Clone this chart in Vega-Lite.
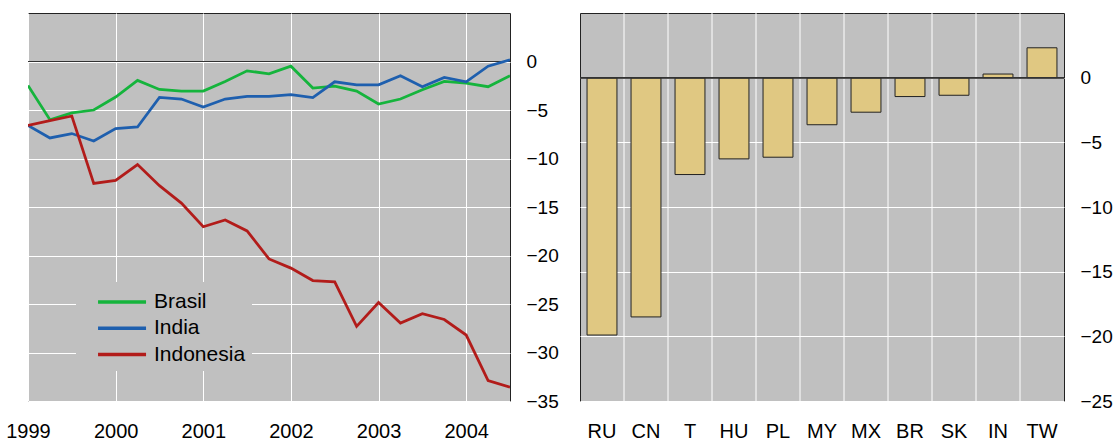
{
  "$schema": "https://vega.github.io/schema/vega-lite/v6.json",
  "background": "white",
  "padding": {"left": 5, "top": 12, "right": 50, "bottom": 5},
  "bounds": "flush",
  "spacing": 70,
  "config": {
    "view": {"fill": "#c0c0c0", "stroke": "#222222", "strokeWidth": 1},
    "font": "Liberation Sans",
    "axis": {
      "labelFont": "Liberation Sans", "labelFontSize": 20, "labelColor": "#000000",
      "gridColor": "#ffffff", "gridOpacity": 1, "gridWidth": 1,
      "ticks": false, "tickSize": 0, "domain": false, "title": null
    },
    "axisY": {"labelFontSize": 19},
    "legend": {
      "labelFont": "Liberation Sans", "labelFontSize": 21, "labelColor": "#000000"
    }
  },
  "datasets": {
    "lines": [
      {"t": 1999.0, "s": "Brasil", "v": -2.47}, {"t": 1999.25, "s": "Brasil", "v": -6.0}, {"t": 1999.5, "s": "Brasil", "v": -5.3}, {"t": 1999.75, "s": "Brasil", "v": -5.0},
      {"t": 2000.0, "s": "Brasil", "v": -3.66}, {"t": 2000.25, "s": "Brasil", "v": -1.95}, {"t": 2000.5, "s": "Brasil", "v": -2.88}, {"t": 2000.75, "s": "Brasil", "v": -3.05},
      {"t": 2001.0, "s": "Brasil", "v": -3.05}, {"t": 2001.25, "s": "Brasil", "v": -2.05}, {"t": 2001.5, "s": "Brasil", "v": -0.96}, {"t": 2001.75, "s": "Brasil", "v": -1.27},
      {"t": 2002.0, "s": "Brasil", "v": -0.48}, {"t": 2002.25, "s": "Brasil", "v": -2.74}, {"t": 2002.5, "s": "Brasil", "v": -2.53}, {"t": 2002.75, "s": "Brasil", "v": -3.05},
      {"t": 2003.0, "s": "Brasil", "v": -4.38}, {"t": 2003.25, "s": "Brasil", "v": -3.87}, {"t": 2003.5, "s": "Brasil", "v": -2.91}, {"t": 2003.75, "s": "Brasil", "v": -2.05},
      {"t": 2004.0, "s": "Brasil", "v": -2.23}, {"t": 2004.25, "s": "Brasil", "v": -2.6}, {"t": 2004.5, "s": "Brasil", "v": -1.47},
      {"t": 1999.0, "s": "India", "v": -6.58}, {"t": 1999.25, "s": "India", "v": -7.88}, {"t": 1999.5, "s": "India", "v": -7.43}, {"t": 1999.75, "s": "India", "v": -8.2},
      {"t": 2000.0, "s": "India", "v": -6.92}, {"t": 2000.25, "s": "India", "v": -6.75}, {"t": 2000.5, "s": "India", "v": -3.7}, {"t": 2000.75, "s": "India", "v": -3.87},
      {"t": 2001.0, "s": "India", "v": -4.69}, {"t": 2001.25, "s": "India", "v": -3.87}, {"t": 2001.5, "s": "India", "v": -3.6}, {"t": 2001.75, "s": "India", "v": -3.6},
      {"t": 2002.0, "s": "India", "v": -3.42}, {"t": 2002.25, "s": "India", "v": -3.73}, {"t": 2002.5, "s": "India", "v": -2.09}, {"t": 2002.75, "s": "India", "v": -2.4},
      {"t": 2003.0, "s": "India", "v": -2.4}, {"t": 2003.25, "s": "India", "v": -1.47}, {"t": 2003.5, "s": "India", "v": -2.6}, {"t": 2003.75, "s": "India", "v": -1.64},
      {"t": 2004.0, "s": "India", "v": -2.09}, {"t": 2004.25, "s": "India", "v": -0.48}, {"t": 2004.5, "s": "India", "v": 0.17},
      {"t": 1999.0, "s": "Indonesia", "v": -6.58}, {"t": 1999.25, "s": "Indonesia", "v": -6.1}, {"t": 1999.5, "s": "Indonesia", "v": -5.62}, {"t": 1999.75, "s": "Indonesia", "v": -12.57},
      {"t": 2000.0, "s": "Indonesia", "v": -12.26}, {"t": 2000.25, "s": "Indonesia", "v": -10.62}, {"t": 2000.5, "s": "Indonesia", "v": -12.8}, {"t": 2000.75, "s": "Indonesia", "v": -14.6},
      {"t": 2001.0, "s": "Indonesia", "v": -17.03}, {"t": 2001.25, "s": "Indonesia", "v": -16.34}, {"t": 2001.5, "s": "Indonesia", "v": -17.47}, {"t": 2001.75, "s": "Indonesia", "v": -20.35},
      {"t": 2002.0, "s": "Indonesia", "v": -21.3}, {"t": 2002.25, "s": "Indonesia", "v": -22.58}, {"t": 2002.5, "s": "Indonesia", "v": -22.71}, {"t": 2002.75, "s": "Indonesia", "v": -27.3},
      {"t": 2003.0, "s": "Indonesia", "v": -24.84}, {"t": 2003.25, "s": "Indonesia", "v": -26.96}, {"t": 2003.5, "s": "Indonesia", "v": -26.0}, {"t": 2003.75, "s": "Indonesia", "v": -26.6},
      {"t": 2004.0, "s": "Indonesia", "v": -28.2}, {"t": 2004.25, "s": "Indonesia", "v": -32.89}, {"t": 2004.5, "s": "Indonesia", "v": -33.57}
    ],
    "bars": [
      {"c": "RU", "v": -19.9}, {"c": "CN", "v": -18.5}, {"c": "T", "v": -7.49}, {"c": "HU", "v": -6.28},
      {"c": "PL", "v": -6.15}, {"c": "MY", "v": -3.64}, {"c": "MX", "v": -2.67}, {"c": "BR", "v": -1.46},
      {"c": "SK", "v": -1.36}, {"c": "IN", "v": 0.28}, {"c": "TW", "v": 2.31}
    ]
  },
  "hconcat": [
    {
      "width": 482,
      "height": 388,
      "data": {"name": "lines"},
      "layer": [
        {
          "mark": {"type": "rule", "color": "#333333", "strokeWidth": 1},
          "encoding": {"y": {"datum": 0, "type": "quantitative", "scale": {"domain": [-35, 5], "nice": false}}}
        },
        {
          "mark": {"type": "line", "strokeWidth": 2.75, "clip": true},
          "encoding": {
            "x": {"field": "t", "type": "quantitative",
                  "scale": {"domain": [1999, 2004.5], "nice": false, "zero": false},
                  "axis": {"values": [1999, 2000, 2001, 2002, 2003, 2004], "format": "d", "grid": true, "labelPadding": 20, "labelFlush": false}},
            "y": {"field": "v", "type": "quantitative",
                  "scale": {"domain": [-35, 5], "nice": false},
                  "axis": {"orient": "right", "values": [0, -5, -10, -15, -20, -25, -30, -35], "grid": true, "labelPadding": 16, "labelFlush": false}},
            "color": {"field": "s", "type": "nominal",
                      "scale": {"domain": ["Brasil", "India", "Indonesia"], "range": ["#15b43c", "#1e5fae", "#b21c1a"]},
                      "legend": {"orient": "none", "legendX": 48, "legendY": 269, "title": null, "direction": "vertical",
                                 "fillColor": "#c0c0c0", "padding": 6, "symbolType": "M0.17,0H4.17", "symbolSize": 576,
                                 "symbolStrokeWidth": 3.5, "labelOffset": 44, "rowPadding": 2.3}}
          }
        }
      ]
    },
    {
      "width": 484,
      "height": 388,
      "data": {"name": "bars"},
      "layer": [
        {
          "transform": [{"filter": "datum.c !== 'RU'"}],
          "mark": {"type": "rule", "color": "#ffffff", "strokeWidth": 1},
          "encoding": {
            "x": {"field": "c", "type": "nominal", "sort": null, "bandPosition": 0,
                  "scale": {"domain": ["RU", "CN", "T", "HU", "PL", "MY", "MX", "BR", "SK", "IN", "TW"], "paddingInner": 0, "paddingOuter": 0},
                  "axis": {"labelAngle": 0, "labelPadding": 20, "grid": false}}
          }
        },
        {
          "mark": {"type": "bar", "fill": "#e0c882", "stroke": "#222222", "strokeWidth": 1, "width": {"band": 0.68}},
          "encoding": {
            "x": {"field": "c", "type": "nominal", "sort": null,
                  "scale": {"domain": ["RU", "CN", "T", "HU", "PL", "MY", "MX", "BR", "SK", "IN", "TW"], "paddingInner": 0, "paddingOuter": 0},
                  "axis": {"labelAngle": 0, "labelPadding": 20, "grid": false}},
            "y": {"field": "v", "type": "quantitative",
                  "scale": {"domain": [-25, 5], "nice": false},
                  "axis": {"orient": "right", "values": [0, -5, -10, -15, -20, -25], "grid": true, "labelPadding": 16, "labelFlush": false}}
          }
        },
        {
          "mark": {"type": "rule", "color": "#333333", "strokeWidth": 1},
          "encoding": {"y": {"datum": 0, "type": "quantitative"}}
        }
      ]
    }
  ]
}
